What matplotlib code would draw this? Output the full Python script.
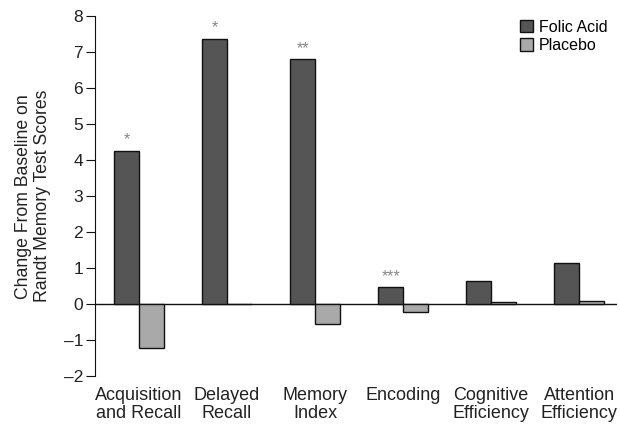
import numpy as np
from matplotlib import pyplot as plt

plt.rcParams['font.family'] = ['Liberation Sans', 'DejaVu Sans']

# === DATA ===
categories = ['Acquisition\nand Recall', 'Delayed\nRecall', 'Memory\nIndex',
              'Encoding', 'Cognitive\nEfficiency', 'Attention\nEfficiency']
folic_acid = [4.26, 7.38, 6.81, 0.47, 0.63, 1.13]
placebo = [-1.21, 0.0, -0.54, -0.22, 0.07, 0.09]
stars = ['*', '*', '**', '***', '', '']

# === PLOT ===
fig = plt.figure(figsize=(6.2, 4.26), dpi=100)
ax = fig.add_axes([0.153, 0.117, 0.842, 0.845])

x = np.arange(len(categories))
w = 0.28
ax.bar(x - w / 2, folic_acid, w, color='#555555', edgecolor='#111111', linewidth=1, label='Folic Acid')
ax.bar(x + w / 2, placebo, w, color='#a9a9a9', edgecolor='#111111', linewidth=1, label='Placebo')

for xi, v, s in zip(x, folic_acid, stars):
    if s:
        ax.text(xi - w / 2, v + 0.3, s, ha='center', va='center', fontsize=11.5, color='#888888')

ax.axhline(0, color='#111111', linewidth=1, zorder=0)

ax.set_xlim(-0.5, 5.43)
ax.set_ylim(-2, 8)
ax.set_yticks(range(-2, 9))
ax.set_yticklabels([str(v).replace('-', '\u2013') for v in range(-2, 9)])
ax.set_xticks(x)
ax.set_xticklabels(categories, fontsize=13, color='#222222', linespacing=1.05)
ax.tick_params(axis='x', length=0, pad=8)
ax.tick_params(axis='y', labelsize=12.5, direction='out', length=6.5, pad=2,
               color='#111111', labelcolor='#222222')

for side in ['top', 'right', 'bottom']:
    ax.spines[side].set_visible(False)
ax.spines['left'].set_color('#111111')

ax.set_ylabel('Change From Baseline on\nRandt Memory Test Scores', fontsize=12.7,
              color='#222222', linespacing=1.15, labelpad=9)

ax.legend(loc='upper right', bbox_to_anchor=(1.01, 1.03), frameon=False, fontsize=11.5,
          handlelength=0.8, handleheight=0.8, handletextpad=0.4, labelspacing=0.2)

plt.savefig('out.png', dpi=100)
